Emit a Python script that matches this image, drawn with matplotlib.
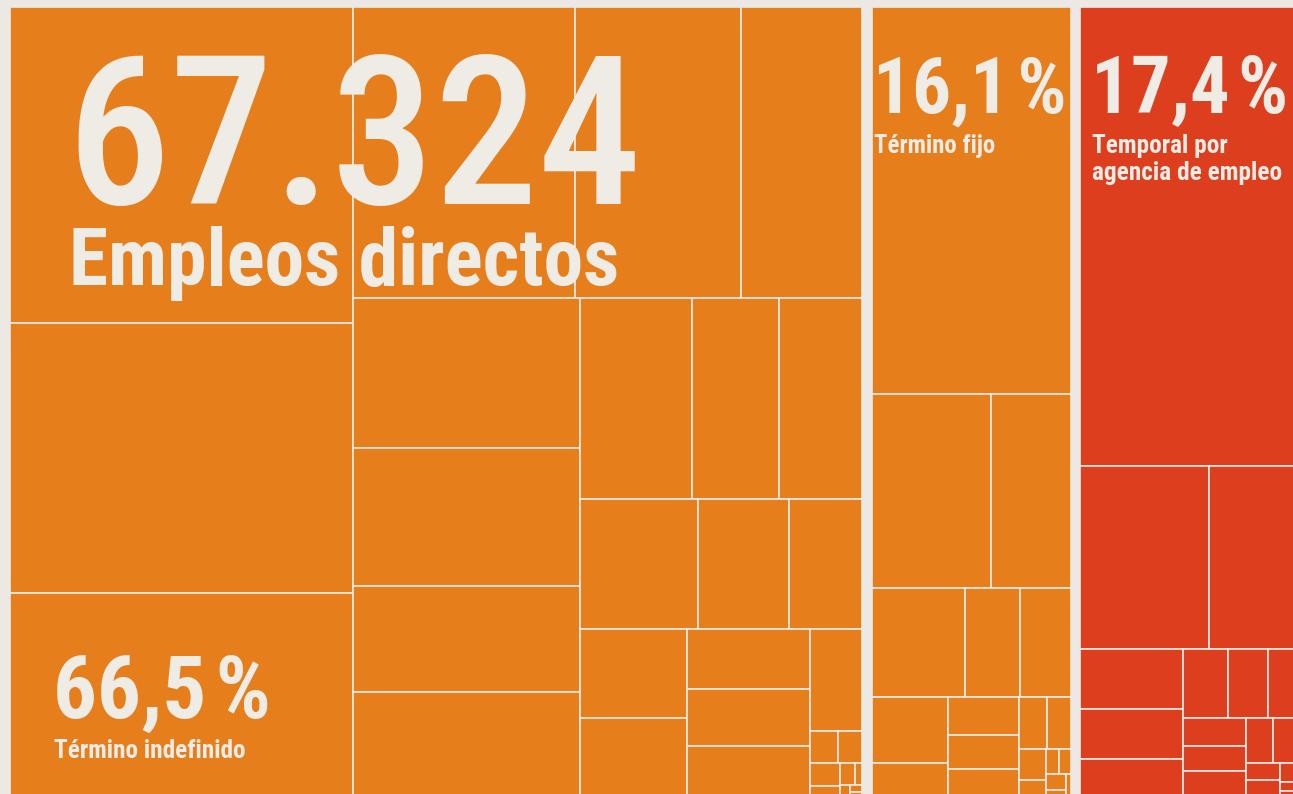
import matplotlib.pyplot as plt
from matplotlib.patches import Rectangle

# tipo de contrato y participación en el total de empleos directos
grupos = ["Término indefinido", "Término fijo", "Temporal por\nagencia de empleo"]
porcentajes = [66.5, 16.1, 17.4]
total_empleos = 67324

# tamaño relativo de cada empresa dentro de su grupo
indefinido = [108060, 92524, 69829, 64640, 48123, 35276, 33945, 31162, 23988,
              23762, 22520, 17360, 16500, 15397, 11933, 9515, 9500, 8493,
              7270, 7037, 6289, 5257, 875, 774, 656, 332, 329, 154, 120, 90, 60]
fijo = [78033, 23401, 15665, 10388, 6039, 5592, 5115, 2607, 2719, 2450, 2050,
        1494, 1218, 864, 470, 330, 297, 324, 150, 100]
agencia = [99209, 23623, 15840, 6168, 5115, 3950, 3119, 2789, 1903, 1746,
           1586, 1620, 1199, 1052, 580, 561, 300, 150, 100]
valores = [indefinido, fijo, agencia]

naranja = "#E67E1B"
rojo = "#DD3F1E"
colores = [naranja, naranja, rojo]
fondo = "#ECE9E4"
texto = "#EFEBE5"
fuente = ["Roboto Condensed", "Roboto", "DejaVu Sans"]

PHI = (1 + 5 ** 0.5) / 2


def squarify(values, x0, y0, x1, y1, ratio=PHI):
    # mismo algoritmo que d3.treemapSquarify
    rects = []
    value = float(sum(values))
    n = len(values)
    i0 = i1 = 0
    while i0 < n:
        dx, dy = x1 - x0, y1 - y0
        sum_v = values[i1]
        i1 += 1
        min_v = max_v = sum_v
        alpha = max(dy / dx, dx / dy) / (value * ratio)
        beta = sum_v * sum_v * alpha
        min_ratio = max(max_v / beta, beta / min_v)
        while i1 < n:
            v = values[i1]
            sum_v += v
            min_v = min(min_v, v)
            max_v = max(max_v, v)
            beta = sum_v * sum_v * alpha
            new_ratio = max(max_v / beta, beta / min_v)
            if new_ratio > min_ratio:
                sum_v -= v
                break
            min_ratio = new_ratio
            i1 += 1
        row = values[i0:i1]
        if dx < dy:
            yb = y0 + dy * sum_v / value
            xx = x0
            for v in row:
                w = dx * v / sum_v
                rects.append((xx, y0, w, yb - y0))
                xx += w
            y0 = yb
        else:
            xb = x0 + dx * sum_v / value
            yy = y0
            for v in row:
                h = dy * v / sum_v
                rects.append((x0, yy, xb - x0, h))
                yy += h
            x0 = xb
        value -= sum_v
        i0 = i1
    return rects


fig = plt.figure(figsize=(12.93, 7.94), dpi=100)
fig.patch.set_facecolor(fondo)
ax = fig.add_axes([0, 0, 1, 1])
ax.set_xlim(0, 1293)
ax.set_ylim(794, 0)
ax.axis("off")
renderer = fig.canvas.get_renderer()

# area total en pixeles, cortada un poco a la derecha y abajo
left, top, right, bottom = 10, 7, 1296, 797
gap = 9.5
span = right - left + gap
x = left - gap / 2
cajas = []
for p in porcentajes:
    w = span * p / sum(porcentajes)
    cajas.append((x + gap / 2, top, x + w - gap / 2, bottom))
    x += w

for (gx0, gy0, gx1, gy1), vals, c in zip(cajas, valores, colores):
    for rx, ry, rw, rh in squarify(vals, gx0, gy0, gx1, gy1):
        ax.add_patch(Rectangle((rx, ry), rw, rh, facecolor=c,
                               edgecolor=fondo, linewidth=1.2))


def poner(x, y, lineas, alto, ancho, peso="bold", salto=0):
    # tamaño por altura de mayúsculas, ajustado hacia el ancho de referencia
    size = alto / 0.71 * 72 / 100
    ts = [ax.text(x, y + i * salto, s, fontsize=size, color=texto,
                  family=fuente, fontweight=peso, va="baseline")
          for i, s in enumerate(lineas)]
    w = max(t.get_window_extent(renderer).width for t in ts)
    r = ancho / w
    if r > 1:
        r = r ** 0.5
    for t in ts:
        t.set_fontsize(size * r)
    return ts


pct_txt = [f"{p:.1f}".replace(".", ",") + "\u200a%" for p in porcentajes]

# cifra total
poner(66, 204, [f"{total_empleos:,}".replace(",", ".")], 164, 576, "medium")
poner(69, 285, ["Empleos directos"], 55, 567)

# etiquetas de cada grupo
pos = [(cajas[0][0] + 43, 718, 218), (cajas[1][0] + 1, 113, 193),
       (cajas[2][0] + 11, 113, 197)]
anchos = [196, 121, 196]
for (tx, ty, aw), pt, g, lw in zip(pos, pct_txt, grupos, anchos):
    poner(tx, ty, [pt], 62, aw)
    poner(tx + 1, ty + 40, g.split("\n"), 17.5, lw, salto=27)

fig.savefig("out.png", dpi=100, facecolor=fondo)
